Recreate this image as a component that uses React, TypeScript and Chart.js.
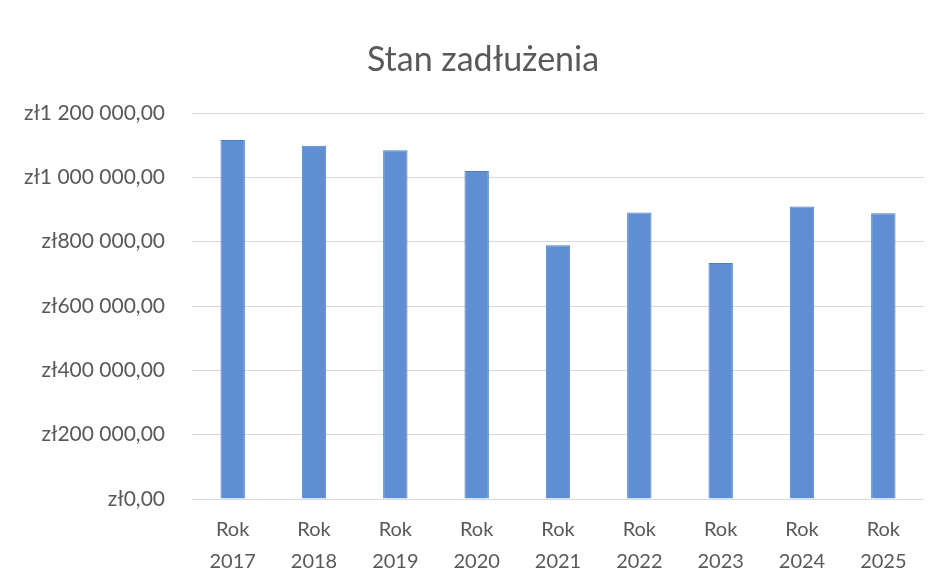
import React, { useEffect, useRef } from "react";
import { Chart, registerables } from "chart.js";

Chart.register(...registerables);

const categories: string[][] = [
  ["Rok", "2017"],
  ["Rok", "2018"],
  ["Rok", "2019"],
  ["Rok", "2020"],
  ["Rok", "2021"],
  ["Rok", "2022"],
  ["Rok", "2023"],
  ["Rok", "2024"],
  ["Rok", "2025"],
];

const debtValues: number[] = [1116000, 1098000, 1084000, 1020000, 789000, 891000, 734000, 909000, 888000];

const yTickMin = 0;
const yTickMax = 1200000;
const yTickStep = 200000;

const chartTitle = "Stan zadłużenia";

function formatZl(v: number): string {
  const s = Math.round(v).toString().replace(/\B(?=(\d{3})+(?!\d))/g, " ");
  return "zł" + s + ",00";
}

const titlePlugin = {
  id: "centeredTitle",
  afterDraw(chart: any) {
    const ctx = chart.ctx as CanvasRenderingContext2D;
    ctx.save();
    ctx.fillStyle = "#595959";
    ctx.font = "34px Lato";
    ctx.textAlign = "center";
    ctx.textBaseline = "middle";
    ctx.fillText(chartTitle, 483, 60);
    ctx.restore();
  },
};

export default function App() {
  const canvasRef = useRef<HTMLCanvasElement | null>(null);

  useEffect(() => {
    document.body.style.margin = "0";
    const canvas = canvasRef.current;
    if (!canvas) return;
    const chart = new Chart(canvas, {
      type: "bar",
      data: {
        labels: categories,
        datasets: [
          {
            label: chartTitle,
            data: debtValues,
            backgroundColor: "#5f8fd2",
            borderColor: "#4e80c6",
            borderWidth: 1,
            barPercentage: 0.6,
            categoryPercentage: 0.5,
          },
        ],
      },
      plugins: [titlePlugin],
      options: {
        animation: false,
        responsive: false,
        maintainAspectRatio: false,
        layout: { padding: { left: 0, right: 19, top: 113, bottom: 9 } },
        plugins: {
          legend: { display: false },
          tooltip: { enabled: false },
          title: { display: false },
        },
        scales: {
          x: {
            grid: { display: false },
            border: { display: false },
            afterFit: (scale: any) => {
              scale.height = 77;
            },
            ticks: {
              color: "#595959",
              font: { family: "Lato", size: 20, lineHeight: 1.6 },
              padding: 7,
              maxRotation: 0,
              autoSkip: false,
            },
          },
          y: {
            min: yTickMin,
            max: yTickMax,
            border: { display: false },
            grid: { color: "#d9d9d9", lineWidth: 1, drawTicks: false },
            afterFit: (scale: any) => {
              scale.width = 192;
            },
            ticks: {
              stepSize: yTickStep,
              color: "#595959",
              font: { family: "Lato", size: 21 },
              padding: 27,
              callback: (v: any) => formatZl(Number(v)),
            },
          },
        },
      },
    });
    return () => chart.destroy();
  }, []);

  return (
    <div style={{ width: 943, height: 585, background: "#ffffff" }}>
      <canvas ref={canvasRef} width={943} height={585} style={{ display: "block" }} />
    </div>
  );
}
